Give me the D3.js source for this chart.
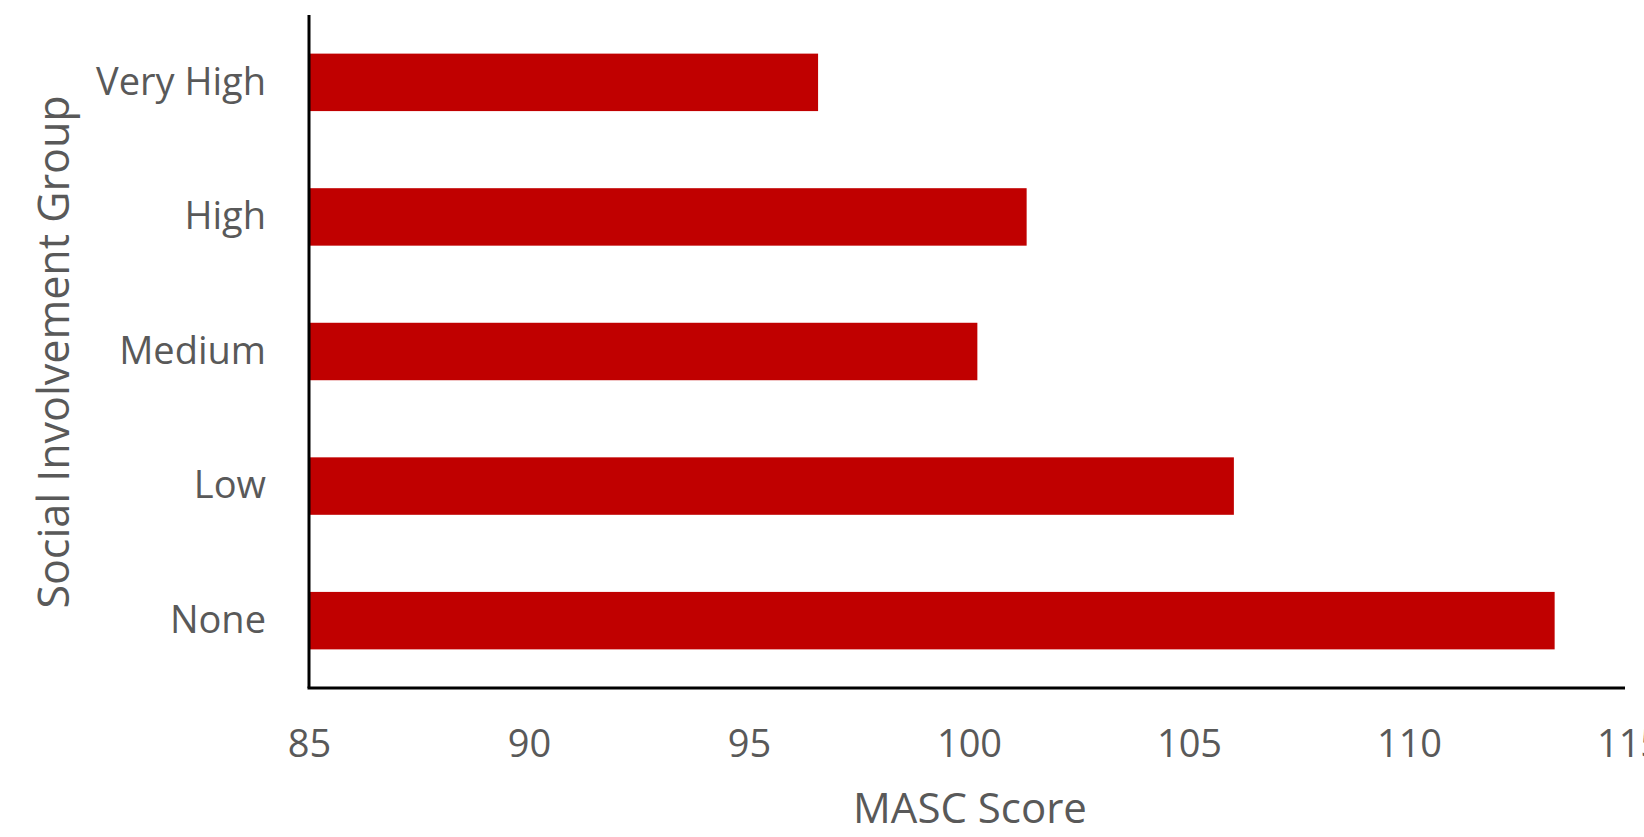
<!DOCTYPE html>
<html><head><meta charset="utf-8">
<script src="https://cdn.jsdelivr.net/npm/d3@7"></script>
<style>body{margin:0;background:#fff}text{font-family:"Open Sans",sans-serif;fill:#595959}</style>
</head><body><svg id="c" width="1644" height="837"></svg>
<script>
const categories = ["Very High","High","Medium","Low","None"];
const values = [96.57, 101.31, 100.19, 106.02, 113.31];
const xTicks = [85,90,95,100,105,110,115];
const xTitle = "MASC Score";
const yTitle = "Social Involvement Group";

const svg = d3.select("#c");
const L = 309, R = 1629, T = 15, B = 688;
const x = d3.scaleLinear().domain([85,115]).range([L,R]);
const y = d3.scaleBand().domain(categories).range([T,B]).paddingInner(0.573).paddingOuter(0.287);

svg.selectAll("rect.bar").data(categories).join("rect").attr("class","bar")
  .attr("x", x(85)).attr("y", d=>y(d))
  .attr("width", (d,i)=>x(values[i])-x(85)).attr("height", y.bandwidth())
  .attr("fill","#C00000");

svg.append("line").attr("x1",L).attr("x2",L).attr("y1",T).attr("y2",B).attr("stroke","#000").attr("stroke-width",3);
svg.append("line").attr("x1",L-1.5).attr("x2",1625).attr("y1",B).attr("y2",B).attr("stroke","#000").attr("stroke-width",3);

const xa = svg.append("g").attr("transform",`translate(0,${B})`)
  .call(d3.axisBottom(x).tickValues(xTicks).tickSize(0).tickPadding(42));
xa.select(".domain").remove();
xa.selectAll("text").style("font-size","38px").attr("fill","#595959").style("font-family","'Open Sans',sans-serif");

const ya = svg.append("g").attr("transform",`translate(${L},0)`)
  .call(d3.axisLeft(y).tickSize(0).tickPadding(43));
ya.select(".domain").remove();
ya.selectAll("text").style("font-size","38px").attr("fill","#595959").style("font-family","'Open Sans',sans-serif");

svg.append("text").attr("x",970).attr("y",812).attr("text-anchor","middle")
  .attr("dominant-baseline","middle").style("font-size","42px").text(xTitle);
svg.append("text").attr("transform","translate(57,352) rotate(-90)").attr("text-anchor","middle")
  .attr("dominant-baseline","middle").style("font-size","43px").text(yTitle);
</script></body></html>
